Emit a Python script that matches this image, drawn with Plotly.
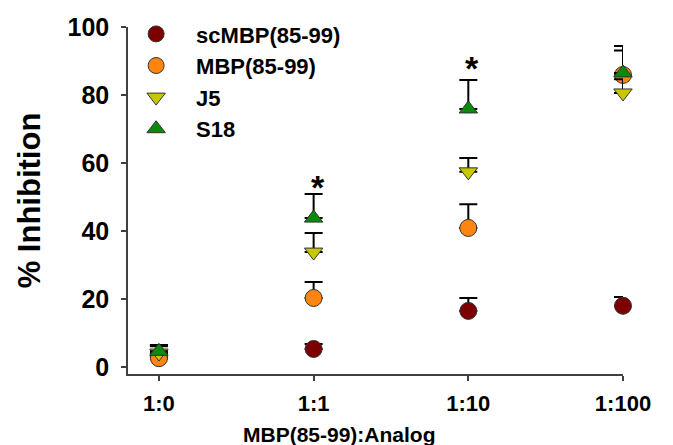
import plotly.graph_objects as go

categories = ["1:0", "1:1", "1:10", "1:100"]
x_pos = [0, 1, 2, 3]

sc_mbp = [3.0, 5.3, 16.5, 18.0]
sc_mbp_err = [1.0, 1.5, 3.8, 2.6]
mbp = [2.6, 20.3, 40.9, 85.9]
mbp_err = [3.5, 4.7, 7.0, 7.2]
j5 = [4.1, 33.8, 57.4, 80.6]
j5_err = [2.4, 5.6, 4.1, 4.0]
s18 = [4.6, 43.8, 75.9, 86.5]
s18_err = [1.9, 7.1, 8.5, 7.9]

series = [
    ("scMBP(85-99)", sc_mbp, sc_mbp_err, "circle", "#7d0000", 17),
    ("MBP(85-99)", mbp, mbp_err, "circle", "#ff8511", 17),
    ("J5", j5, j5_err, "triangle-down", "#c8c800", 16),
    ("S18", s18, s18_err, "triangle-up", "#0a8a0a", 16),
]

star_x = [1, 2]
star_y = [54.5, 89.4]

FONT = "Liberation Sans"

fig = go.Figure()
for name, vals, errs, sym, col, sz in series:
    fig.add_trace(go.Scatter(
        x=x_pos, y=vals, mode="markers", name=name,
        marker=dict(symbol=sym, size=sz, color=col,
                    line=dict(color="#333333", width=1)),
        error_y=dict(type="data", symmetric=False, array=errs,
                     arrayminus=[0] * len(errs), color="black",
                     thickness=2, width=9),
        cliponaxis=False,
    ))

for sx, sy in zip(star_x, star_y):
    fig.add_annotation(x=sx, y=sy, text="*", showarrow=False, xshift=4,
                       yshift=-5,
                       font=dict(family=FONT, size=34, color="black", weight="bold"))

fig.add_annotation(xref="paper", yref="paper", x=0.428, y=-0.175,
                   text="MBP(85-99):Analog", showarrow=False,
                   xanchor="center", yanchor="middle",
                   font=dict(family=FONT, size=21, color="black", weight="bold"))

fig.update_layout(
    width=673, height=445,
    margin=dict(l=128, r=50, t=27, b=71, autoexpand=False),
    plot_bgcolor="white", paper_bgcolor="white",
    showlegend=True,
    legend=dict(x=-0.024, y=1.04, xanchor="left", yanchor="top",
                xref="paper", yref="paper",
                font=dict(family=FONT, size=22, color="black", weight="bold"),
                itemwidth=70, tracegroupgap=0, bgcolor="rgba(0,0,0,0)"),
    font=dict(family=FONT, color="black"),
)

fig.update_xaxes(
    range=[-0.2, 3.0], tickvals=x_pos, ticktext=categories,
    showline=True, linecolor="#404040", linewidth=1.5,
    ticks="outside", ticklen=5, tickcolor="#404040", tickwidth=1.5,
    showgrid=False, zeroline=False,
    tickfont=dict(family=FONT, size=22, color="black", weight="bold"),
    ticklabelstandoff=4,
)
fig.update_yaxes(
    range=[-2.06, 100], tickvals=[0, 20, 40, 60, 80, 100],
    showline=True, linecolor="#404040", linewidth=1.5,
    ticks="outside", ticklen=5, tickcolor="#404040", tickwidth=1.5,
    showgrid=False, zeroline=False,
    tickfont=dict(family=FONT, size=25, color="black", weight="bold"),
    ticklabelstandoff=7,
    title=dict(text="% Inhibition", standoff=18,
               font=dict(family=FONT, size=31, color="black", weight="bold")),
)

fig.write_html("out.html", config={"displayModeBar": False},
               post_script="document.body.style.margin='0';document.body.style.padding='0';")
